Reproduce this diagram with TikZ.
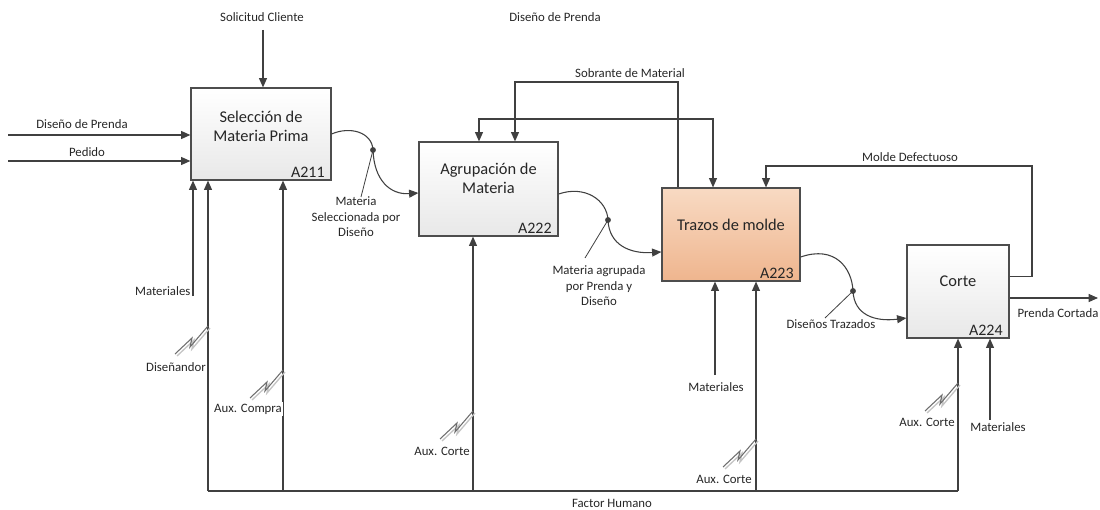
\documentclass[tikz,border=0pt]{standalone}
\usepackage{fontspec}
\setmainfont{Carlito}
\usetikzlibrary{
		arrows.meta,
		calc,
		positioning
	}
\definecolor{linegray}{HTML}{404040}
\definecolor{boltgray}{HTML}{6E6E6E}
\definecolor{boltshade}{HTML}{C4C4C4}
\definecolor{boxline}{HTML}{4D4D4D}
\definecolor{peachtop}{HTML}{F8DAC3}
\definecolor{peachbot}{HTML}{EFB58E}
\tikzset{
		>={Triangle[length=7pt,width=6pt]},
		proc/.style={draw=boxline, line width=0.9pt, top color=white, bottom color=gray!18, inner sep=0pt},
		prochot/.style={proc, top color=peachtop, bottom color=peachbot},
		title/.style={font=\fontsize{12.3}{14.3}\selectfont, align=center, text=black!85},
		code/.style={font=\fontsize{12}{14}\selectfont, anchor=south east, inner xsep=5pt, inner ysep=2pt, text=black!85},
		lbl/.style={font=\fontsize{9.6}{11.6}\selectfont, align=center, inner sep=1pt, text=black!85},
		flow/.style={draw=linegray, line width=0.8pt},
		bolt/.pic={
			\draw[boltshade, line width=1pt] (-31,30) -- (-14,14) -- (-16,23) -- (2,2);
			\draw[boltgray, line width=0.8pt] (-33,28) -- (-16,12) -- (-18,21) -- (0,0);
		}
	}
\begin{document}
\begin{tikzpicture}[x=0.75pt,y=-0.75pt]
          \useasboundingbox (0,0) rectangle (1100,510);

          % activity boxes
          \node[proc, minimum width=105pt, minimum height=69pt] (a211) at (261,134) {};
          \node[proc, minimum width=104.25pt, minimum height=70.5pt] (a222) at (488.5,189) {};
          \node[prochot, minimum width=103.5pt, minimum height=69.75pt] (a223) at (731,234.5) {};
          \node[proc, minimum width=76.5pt, minimum height=69.75pt] (a224) at (958,291.5) {};

          \node[title] (t211) at ([yshift=5.6pt]a211.center) {Selección de\\Materia Prima};
          \node[title] (t222) at ([yshift=8pt]a222.center) {Agrupación de\\Materia};
          \node[title] (t223) at ([yshift=7pt]a223.center) {Trazos de molde};
          \node[title] (t224) at ([yshift=7.5pt]a224.center) {Corte};

          \node[code] (c211) at (a211.south east) {A211};
          \node[code] (c222) at (a222.south east) {A222};
          \node[code] (c223) at (a223.south east) {A223};
          \node[code] (c224) at (a224.south east) {A224};

          % inputs and controls
          \coordinate (dp) at (8,135);
          \coordinate (pe) at (8,161);
          \coordinate (sc) at (263,30);
          \draw[flow,->] (dp) -- (dp -| a211.west);
          \draw[flow,->] (pe) -- (pe -| a211.west);
          \draw[flow,->] (sc) -- (sc |- a211.north);
          \node[lbl] (ldp) at (82,124) {Diseño de Prenda};
          \node[lbl] (lpe) at (87,152) {Pedido};
          \node[lbl] (lsc) at (262,17) {Solicitud Cliente};
          \node[lbl] (ltop) at (555,17) {Diseño de Prenda};

          % outputs between activities
          \coordinate (j1) at (373,150);
          \coordinate (j2) at (608,220);
          \coordinate (j3) at (853,291);
          \draw[flow,->] (a211.east) .. controls (350,126) and (372,132) .. (j1)
                .. controls (374,180) and (390,195) .. ([yshift=-3pt]a222.west);
          \draw[flow,->] ([yshift=-3.75pt]a222.east) .. controls (585,185) and (607,200) .. (j2)
                .. controls (609,245) and (630,254) .. ([yshift=-13.1pt]a223.west);
          \draw[flow,->] ([yshift=-16.9pt]a223.east) .. controls (835,245) and (852,268) .. (j3)
                .. controls (854,315) and (875,322) .. ([yshift=-19.9pt]a224.west);
          \foreach \j in {j1,j2,j3}
                \fill[linegray] (\j) circle[radius=2.2pt];

          \coordinate (e1) at (361,197);
          \coordinate (e2) at (585,258);
          \coordinate (e3) at (825,318);
          \draw[flow, line width=0.6pt] (j1) -- (e1);
          \draw[flow, line width=0.6pt] (j2) -- (e2);
          \draw[flow, line width=0.6pt] (j3) -- (e3);
          \node[lbl] (lms) at (356,217) {Materia\\Seleccionada por\\Diseño};
          \node[lbl] (lma) at (599,286) {Materia agrupada\\por Prenda y\\Diseño};
          \node[lbl] (ldt) at (831,324) {Diseños Trazados};

          % feedback
          \coordinate (sbL) at (515,82);
          \coordinate (sbR) at (678,82);
          \draw[flow,->] (sbR |- a223.north) -- (sbR) -- (sbL) -- (sbL |- a222.north);
          \node[lbl] (lsb) at (630,73) {Sobrante de Material};

          \coordinate (dpL) at (479,119);
          \coordinate (dpR) at (713,119);
          \draw[flow,<->] (dpL |- a222.north) -- (dpL) -- (dpR) -- (dpR |- a223.north);

          \coordinate (mdR) at (1032,166);
          \coordinate (mdL) at (766,166);
          \draw[flow,->] ([yshift=11.6pt]a224.east) -| (mdR) -- (mdL) -- (mdL |- a223.north);
          \node[lbl] (lmd) at (910,157) {Molde Defectuoso};

          \coordinate (pc) at (1098,298);
          \draw[flow,->] (pc -| a224.east) -- (pc);
          \node[lbl] (lpc) at (1058,313) {Prenda Cortada};

          % mechanisms
          \coordinate (m1) at (208,491);
          \coordinate (m2) at (283,491);
          \coordinate (m3) at (473,491);
          \coordinate (m4) at (756,491);
          \coordinate (m5) at (958,491);
          \draw[flow] (m1) -- (m5);
          \draw[flow,->] (m1) -- (m1 |- a211.south);
          \draw[flow,->] (m2) -- (m2 |- a211.south);
          \draw[flow,->] (m3) -- (m3 |- a222.south);
          \draw[flow,->] (m4) -- (m4 |- a223.south);
          \draw[flow,->] (m5) -- (m5 |- a224.south);
          \node[lbl] (lfh) at (612,503) {Factor Humano};

          \coordinate (ma1) at (193,296);
          \coordinate (ma2) at (715,375);
          \coordinate (ma3) at (990,420);
          \draw[flow,->] (ma1) -- (ma1 |- a211.south);
          \draw[flow,->] (ma2) -- (ma2 |- a223.south);
          \draw[flow,->] (ma3) -- (ma3 |- a224.south);
          \node[lbl, anchor=east] (lma1) at (192,291) {Materiales};
          \node[lbl] (lma2) at (716,387) {Materiales};
          \node[lbl] (lma3) at (998,427) {Materiales};

          \pic at (208,326) {bolt};
          \pic at (283,370) {bolt};
          \pic at (473,411) {bolt};
          \pic at (756,439) {bolt};
          \pic at (958,383) {bolt};
          \node[lbl] (ldi) at (176,367) {Diseñandor};
          \node[lbl, fill=white] (lac) at (248,409) {Aux. Compra};
          \node[lbl] (lx1) at (442,451) {Aux. Corte};
          \node[lbl] (lx2) at (724,479) {Aux. Corte};
          \node[lbl] (lx3) at (927,422) {Aux. Corte};

          \end{tikzpicture}
\end{document}
